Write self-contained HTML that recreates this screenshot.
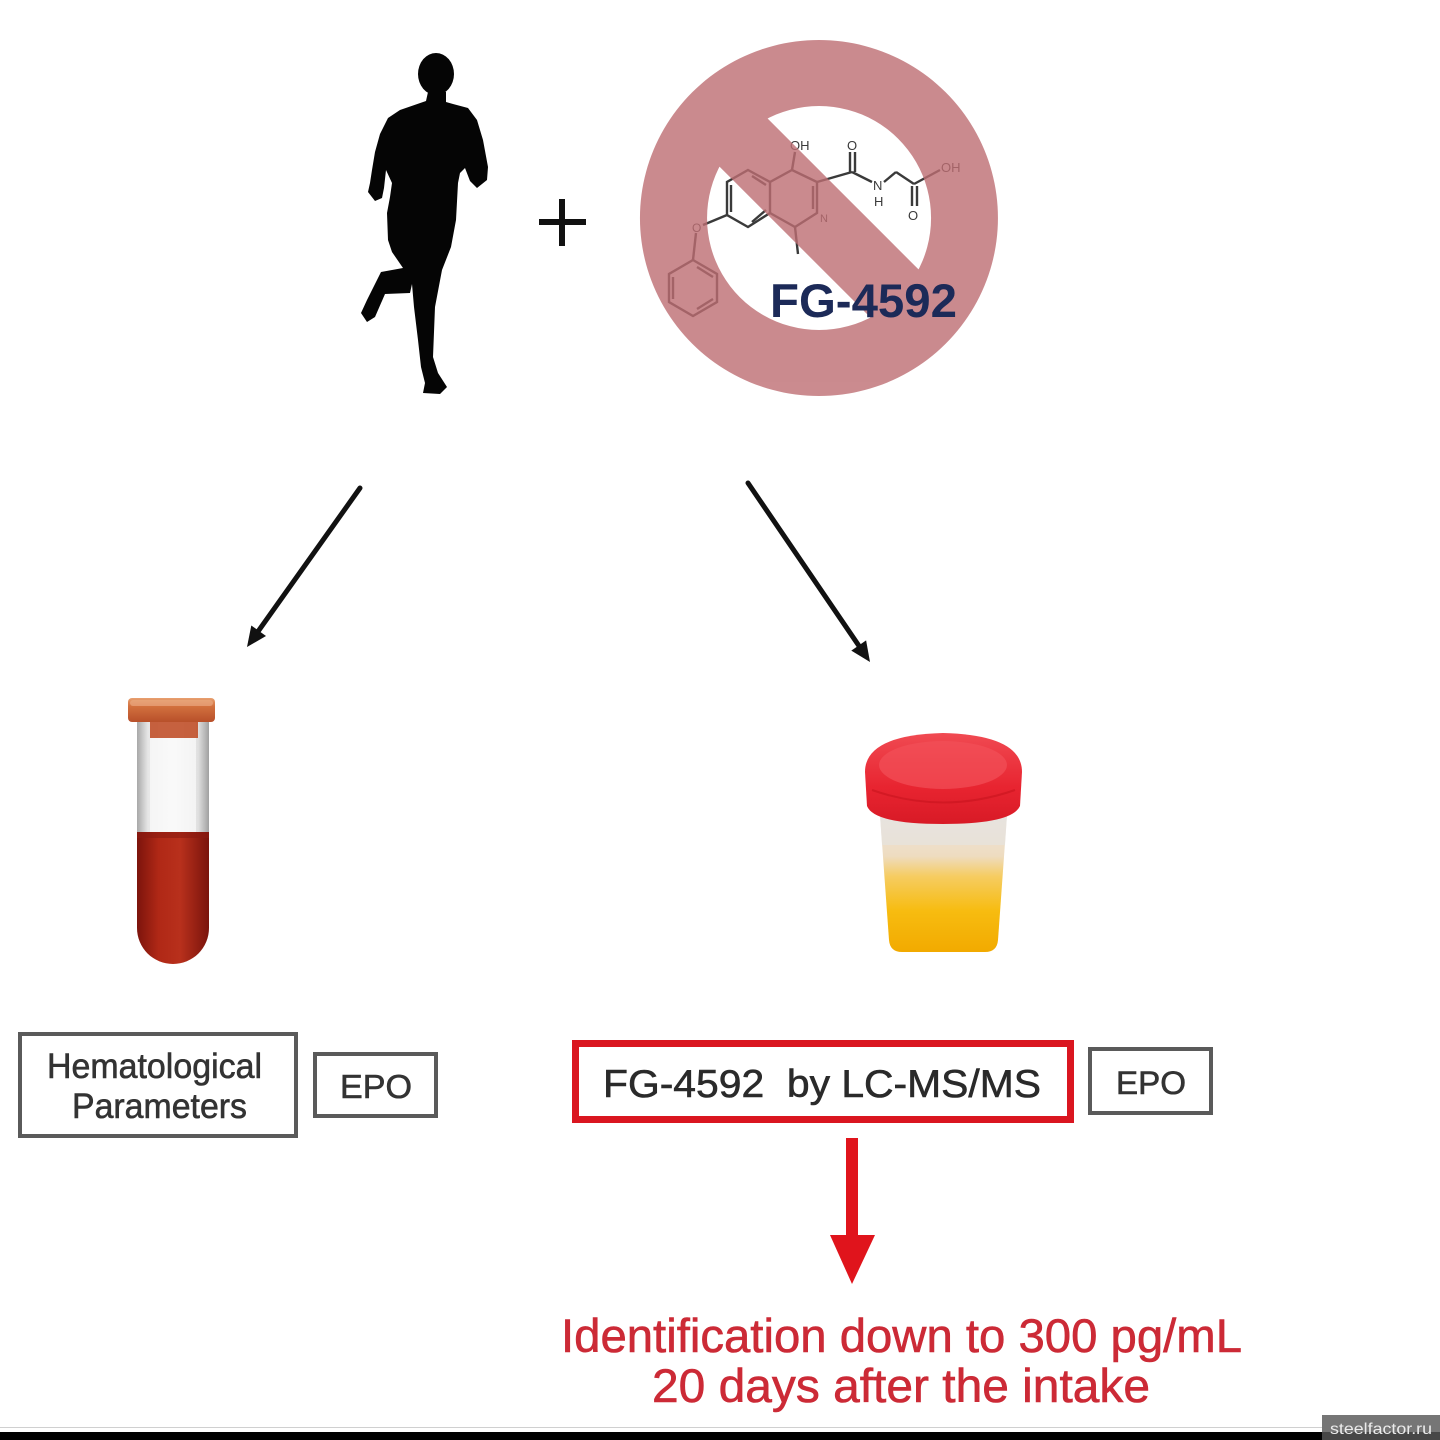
<!DOCTYPE html>
<html>
<head>
<meta charset="utf-8">
<style>
html,body{margin:0;padding:0;background:#fff;}
svg{display:block;}
text{font-family:"Liberation Sans",Arial,sans-serif;}
</style>
</head>
<body>
<svg width="1440" height="1440" viewBox="0 0 1440 1440" xmlns="http://www.w3.org/2000/svg">
<defs>
  <linearGradient id="cap" x1="0" y1="0" x2="0" y2="1">
    <stop offset="0" stop-color="#e8a070"/>
    <stop offset="0.35" stop-color="#d2703e"/>
    <stop offset="1" stop-color="#b8502a"/>
  </linearGradient>
  <linearGradient id="blood" x1="0" y1="0" x2="1" y2="0">
    <stop offset="0" stop-color="#7c140c"/>
    <stop offset="0.3" stop-color="#b02816"/>
    <stop offset="0.6" stop-color="#b8301c"/>
    <stop offset="1" stop-color="#7a140c"/>
  </linearGradient>
  <linearGradient id="glass" x1="0" y1="0" x2="1" y2="0">
    <stop offset="0" stop-color="#a8a8a8"/>
    <stop offset="0.15" stop-color="#e6e6e6"/>
    <stop offset="0.5" stop-color="#f6f6f6"/>
    <stop offset="0.85" stop-color="#e0e0e0"/>
    <stop offset="1" stop-color="#a0a0a0"/>
  </linearGradient>
  <linearGradient id="urine" x1="0" y1="0" x2="0" y2="1">
    <stop offset="0" stop-color="#ece6e0"/>
    <stop offset="0.3" stop-color="#eedcc0"/>
    <stop offset="0.45" stop-color="#f6cc60"/>
    <stop offset="0.7" stop-color="#f7bc10"/>
    <stop offset="1" stop-color="#f2aa00"/>
  </linearGradient>
  <linearGradient id="lid" x1="0" y1="0" x2="0" y2="1">
    <stop offset="0" stop-color="#f04a52"/>
    <stop offset="0.6" stop-color="#e82430"/>
    <stop offset="1" stop-color="#d81a26"/>
  </linearGradient>
</defs>

<rect x="0" y="0" width="1440" height="1440" fill="#fff"/>

<!-- Runner silhouette -->
<g fill="#050505">
  <ellipse cx="436" cy="74" rx="18" ry="21"/>
  <path d="M428,92 L446,92 L446,102 L453,104 L468,108 L477,120 L483,140 L488,167 L487,180 L477,188 L470,181 L465,168 L460,173 L458,183 L456,220 L451,247 L442,270 L435,307 L433,357 L438,373 L447,387 L440,394 L423,393 L425,383 L421,367 L418,340 L414,307 L412,284 L410,293 L385,294 L375,317 L367,322 L361,313 L367,300 L381,272 L403,268 L392,252 L388,240 L387,213 L390,197 L392,183 L386,170 L384,188 L382,198 L375,201 L368,192 L370,183 L372,170 L375,152 L380,134 L388,118 L400,110 L426,101 Z"/>
</g>

<!-- plus -->
<rect x="539" y="219" width="47" height="6" fill="#111"/>
<rect x="559" y="199" width="6" height="47" fill="#111"/>

<!-- molecule (under sign) -->
<g stroke="#3a3a3a" stroke-width="2.4" fill="none">
  <polygon points="748,170 770,182 770,213 748,227 727,215 727,182"/>
  <line x1="752" y1="176" x2="766" y2="185"/>
  <line x1="731" y1="185" x2="731" y2="212"/>
  <line x1="752" y1="222" x2="766" y2="210"/>
  <polyline points="770,182 792,170 817,182 817,213 795,227 770,213"/>
  <line x1="813" y1="186" x2="813" y2="209"/>
  <line x1="792" y1="170" x2="795" y2="152"/>
  <line x1="795" y1="227" x2="798" y2="254"/>
  <line x1="817" y1="182" x2="852" y2="172"/>
  <line x1="850" y1="172" x2="850" y2="152"/>
  <line x1="855" y1="172" x2="855" y2="152"/>
  <line x1="852" y1="172" x2="872" y2="182"/>
  <line x1="884" y1="182" x2="896" y2="172"/>
  <line x1="896" y1="172" x2="914" y2="184"/>
  <line x1="914" y1="184" x2="940" y2="170"/>
  <line x1="912" y1="186" x2="912" y2="206"/>
  <line x1="917" y1="186" x2="917" y2="206"/>
  <line x1="727" y1="215" x2="703" y2="225"/>
  <line x1="696" y1="233" x2="693" y2="260"/>
  <polygon points="693,260 717,274 717,302 693,316 669,302 669,274"/>
  <line x1="673" y1="277" x2="673" y2="299"/>
  <line x1="697" y1="309" x2="713" y2="299"/>
  <line x1="697" y1="267" x2="713" y2="277"/>
</g>
<g fill="#3a3a3a" font-size="13">
  <text x="790" y="150">OH</text>
  <text x="847" y="150">O</text>
  <text x="873" y="190">N</text>
  <text x="874" y="206">H</text>
  <text x="908" y="220">O</text>
  <text x="941" y="172">OH</text>
  <text x="820" y="222" font-size="11">N</text>
  <text x="692" y="232" font-size="12">O</text>
</g>

<!-- prohibition sign -->
<g opacity="0.8" fill="#be6e73">
  <path fill-rule="evenodd" d="M819,40 A179,178 0 1,1 818.9,40 Z M819,106 A112,112 0 1,0 819.1,106 Z"/>
  <rect x="-34" y="-120" width="68" height="240" transform="translate(819,218) rotate(-45)"/>
</g>

<text x="770" y="317" font-size="47" font-weight="bold" fill="#1c2a58" textLength="187" lengthAdjust="spacingAndGlyphs">FG-4592</text>

<!-- black arrows -->
<g stroke="#111" stroke-width="5" stroke-linecap="round">
  <line x1="360" y1="488" x2="258.6" y2="630.7"/>
  <line x1="748" y1="483" x2="858.7" y2="645.5"/>
</g>
<polygon points="247,647 266,636 251.3,625.5" fill="#111"/>
<polygon points="870,662 866.1,640.4 851.3,650.6" fill="#111"/>

<!-- test tube -->
<g>
  <rect x="137" y="718" width="72" height="120" fill="url(#glass)"/>
  <rect x="150" y="722" width="46" height="112" fill="#fbfbfb" opacity="0.7"/>
  <path d="M137,832 L209,832 L209,928 A36,36 0 0,1 137,928 Z" fill="url(#blood)"/>
  <rect x="137" y="832" width="72" height="6" fill="#8a1a10" opacity="0.6"/>
  <rect x="150" y="720" width="48" height="18" fill="#c0502a" opacity="0.9"/>
  <rect x="128" y="698" width="87" height="24" rx="4" fill="url(#cap)"/>
  <rect x="130" y="700" width="83" height="6" rx="3" fill="#eaa880" opacity="0.7"/>
</g>

<!-- urine cup -->
<g>
  <path d="M880,815 L1007,815 L998,940 Q997,952 985,952 L902,952 Q890,952 889,940 Z" fill="url(#urine)"/>
  <path d="M880,815 L1007,815 L1005,845 L882,845 Z" fill="#e6e2de" opacity="0.7"/>
  <path d="M865,772 Q865,735 943,733 Q1022,735 1022,772 L1020,806 Q1012,824 943,824 Q874,824 867,806 Z" fill="url(#lid)"/>
  <ellipse cx="943" cy="765" rx="64" ry="24" fill="#f25058" opacity="0.7"/>
  <path d="M872,790 Q943,815 1015,790" stroke="#c8141e" stroke-width="2" fill="none" opacity="0.6"/>
</g>

<!-- left boxes -->
<rect x="20" y="1034" width="276" height="102" fill="#fff" stroke="#5a5a5a" stroke-width="4"/>
<g stroke="#333" stroke-width="0.6">
<text x="47" y="1078" font-size="35" fill="#333" textLength="215" lengthAdjust="spacingAndGlyphs">Hematological</text>
<text x="72" y="1118" font-size="35" fill="#333" textLength="175" lengthAdjust="spacingAndGlyphs">Parameters</text>
</g>
<rect x="315" y="1054" width="121" height="62" fill="#fff" stroke="#5a5a5a" stroke-width="4"/>
<text x="340" y="1098" font-size="33" fill="#333" stroke="#333" stroke-width="0.6" textLength="72" lengthAdjust="spacingAndGlyphs">EPO</text>

<!-- right boxes -->
<rect x="575.5" y="1043.5" width="495" height="76" fill="#fff" stroke="#da1620" stroke-width="7"/>
<text x="603" y="1097" font-size="39" fill="#2a2a2a" stroke="#2a2a2a" stroke-width="0.6" textLength="438" lengthAdjust="spacingAndGlyphs" xml:space="preserve">FG-4592  by LC-MS/MS</text>
<rect x="1090" y="1049" width="121" height="64" fill="#fff" stroke="#5a5a5a" stroke-width="4"/>
<text x="1116" y="1094" font-size="32" fill="#333" stroke="#333" stroke-width="0.6" textLength="70" lengthAdjust="spacingAndGlyphs">EPO</text>

<!-- red arrow -->
<rect x="846" y="1138" width="12" height="99" fill="#e0141c"/>
<polygon points="830,1235 875,1235 852,1284" fill="#e0141c"/>

<!-- bottom text -->
<g stroke="#cc2a36" stroke-width="0.6">
<text x="561" y="1352" font-size="47" fill="#cc2a36" textLength="681" lengthAdjust="spacingAndGlyphs">Identification down to 300 pg/mL</text>
<text x="652" y="1402" font-size="47" fill="#cc2a36" textLength="498" lengthAdjust="spacingAndGlyphs">20 days after the intake</text>
</g>

<!-- bottom bar -->
<rect x="0" y="1427" width="1440" height="1" fill="#d0d0d0"/>
<rect x="0" y="1432" width="1440" height="8" fill="#000"/>
<rect x="1322" y="1415" width="118" height="17" fill="#767676"/>
<rect x="1322" y="1432" width="118" height="8" fill="#474747"/>
<text x="1330" y="1434" font-size="16" fill="#ececec" textLength="102" lengthAdjust="spacingAndGlyphs">steelfactor.ru</text>
</svg>
</body>
</html>
